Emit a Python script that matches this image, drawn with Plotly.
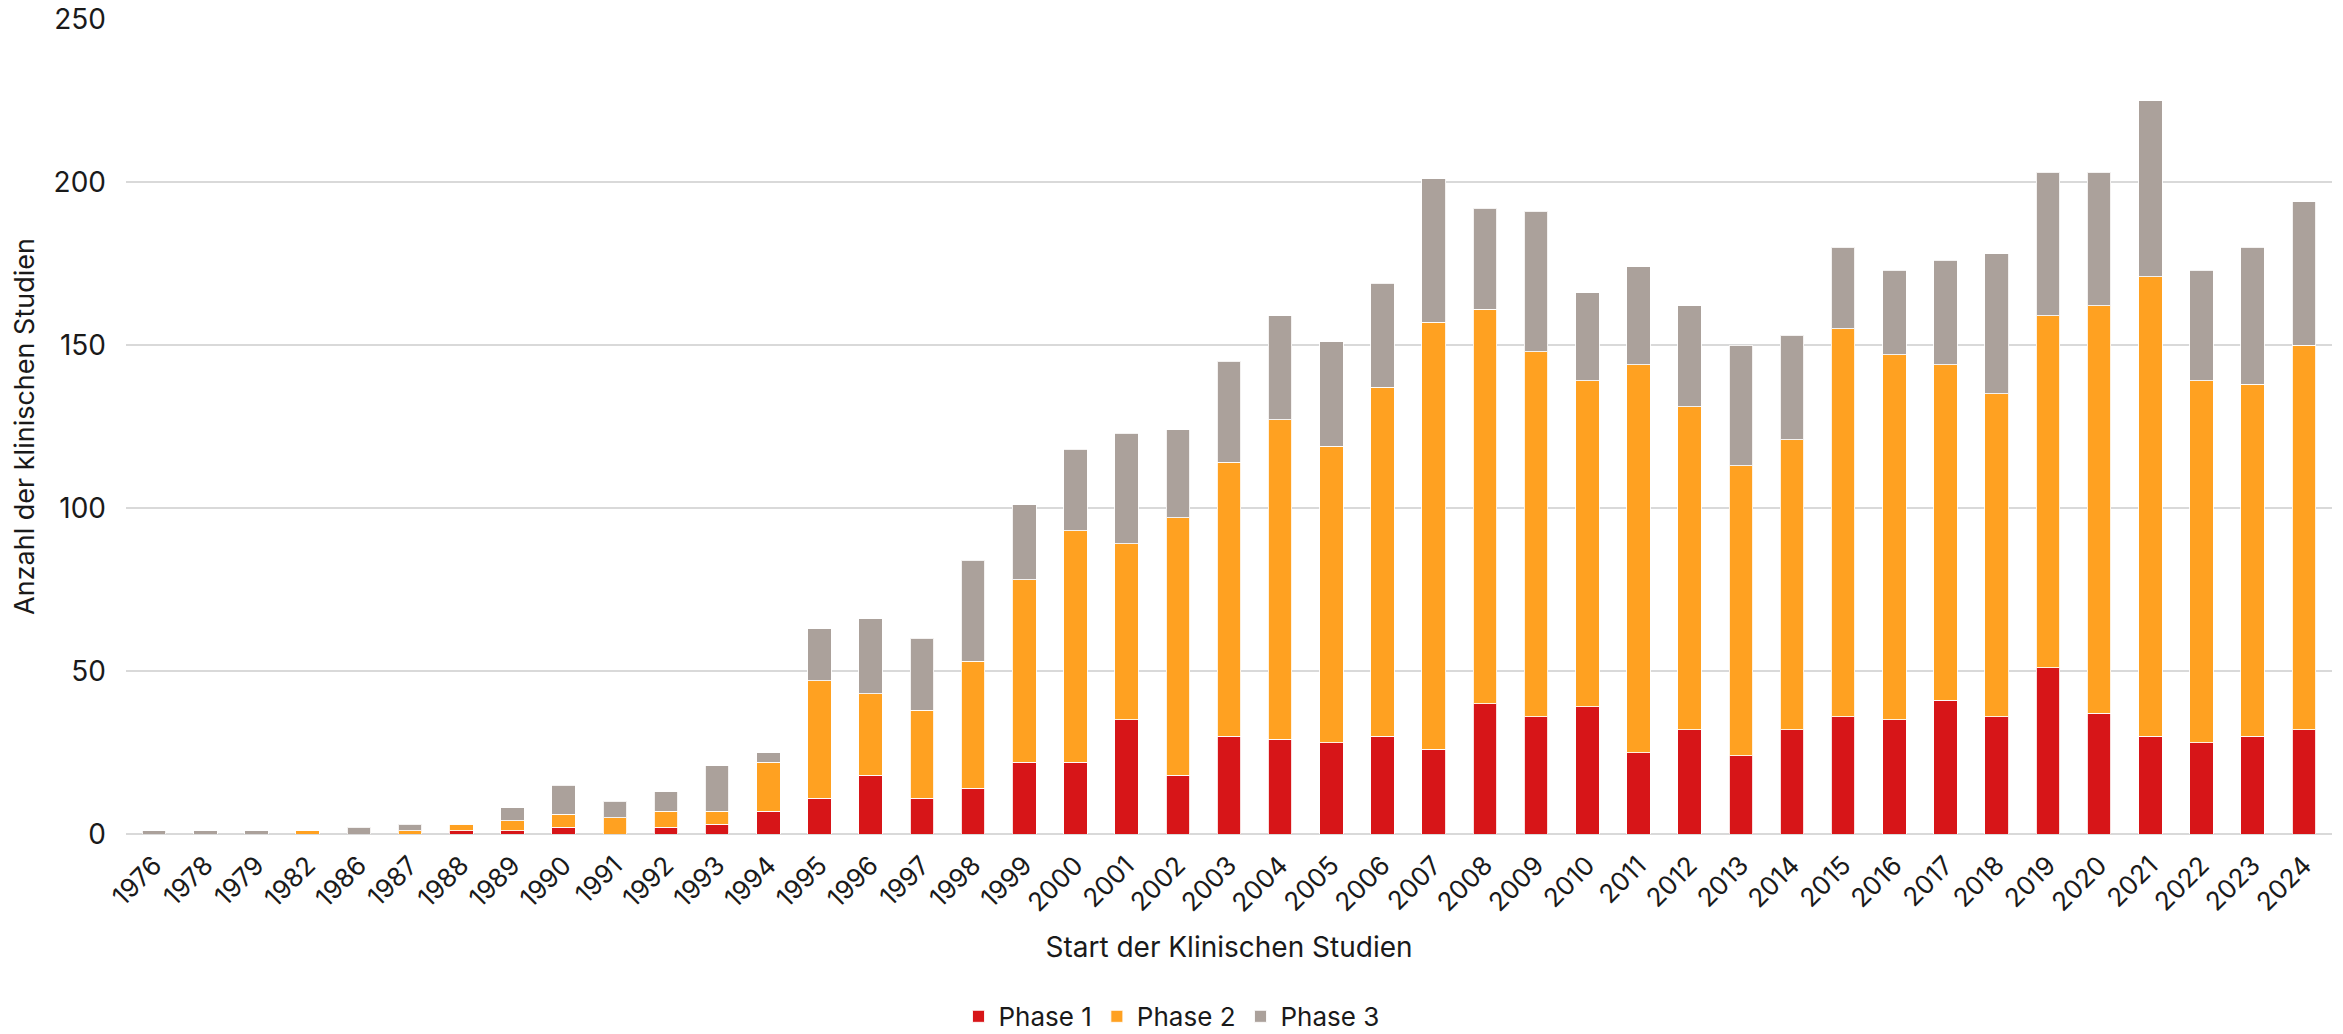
import plotly.graph_objects as go

# Start year of the clinical trials (categorical axis)
years = ["1976", "1978", "1979", "1982", "1986", "1987", "1988", "1989", "1990",
         "1991", "1992", "1993", "1994", "1995", "1996", "1997", "1998", "1999",
         "2000", "2001", "2002", "2003", "2004", "2005", "2006", "2007", "2008",
         "2009", "2010", "2011", "2012", "2013", "2014", "2015", "2016", "2017",
         "2018", "2019", "2020", "2021", "2022", "2023", "2024"]

# Number of trials per phase and start year
phase1 = [0, 0, 0, 0, 0, 0, 1, 1, 2,
          0, 2, 3, 7, 11, 18, 11, 14, 22,
          22, 35, 18, 30, 29, 28, 30, 26, 40,
          36, 39, 25, 32, 24, 32, 36, 35, 41,
          36, 51, 37, 30, 28, 30, 32]
phase2 = [0, 0, 0, 1, 0, 1, 2, 3, 4,
          5, 5, 4, 15, 36, 25, 27, 39, 56,
          71, 54, 79, 84, 98, 91, 107, 131, 121,
          112, 100, 119, 99, 89, 89, 119, 112, 103,
          99, 108, 125, 141, 111, 108, 118]
phase3 = [1, 1, 1, 0, 2, 2, 0, 4, 9,
          5, 6, 14, 3, 16, 23, 22, 31, 23,
          25, 34, 27, 31, 32, 32, 32, 44, 31,
          43, 27, 30, 31, 37, 32, 25, 26, 32,
          43, 44, 41, 54, 34, 42, 44]

series_names = ["Phase 1", "Phase 2", "Phase 3"]
series_colors = ["#D71518", "#FFA121", "#ABA19B"]

FONT = "Inter"
TEXT = "#1A1A1A"
GRID = "#D9D9D9"

fig = go.Figure()
for name, vals, col in zip(series_names, [phase1, phase2, phase3], series_colors):
    fig.add_trace(go.Bar(
        x=years,
        y=vals,
        name=name,
        marker=dict(color=col, line=dict(color="rgba(255,255,255,0.85)", width=1)),
    ))

fig.update_layout(
    width=2343,
    height=1034,
    barmode="stack",
    bargap=0.54,
    plot_bgcolor="white",
    paper_bgcolor="white",
    font=dict(family=FONT, size=26, color=TEXT),
    margin=dict(l=126, r=11, t=19, b=200, autoexpand=False),
    legend=dict(
        orientation="h",
        xref="container", yref="container",
        x=0.5, xanchor="center",
        y=0.017, yanchor="middle",
        font=dict(family=FONT, size=26, color=TEXT),
        itemclick=False,
        traceorder="normal",
    ),
    showlegend=True,
)

fig.update_xaxes(
    type="category",
    range=[-0.55, len(years) - 0.45],
    tickangle=-45,
    tickfont=dict(family=FONT, size=26, color=TEXT),
    ticklabelstandoff=10,
    showgrid=False,
    showline=False,
    ticks="",
    automargin=False,
    title=dict(text="Start der Klinischen Studien",
               font=dict(family=FONT, size=28, color=TEXT),
               standoff=20),
)

fig.update_yaxes(
    range=[0, 250],
    tickvals=[0, 50, 100, 150, 200, 250],
    tickfont=dict(family=FONT, size=28, color=TEXT),
    showgrid=True,
    gridcolor=GRID,
    gridwidth=2,
    zeroline=True,
    zerolinecolor=GRID,
    zerolinewidth=2,
    showline=False,
    ticks="",
    ticklabelstandoff=19,
    automargin=False,
    title=dict(text="Anzahl der klinischen Studien",
               font=dict(family=FONT, size=27, color=TEXT),
               standoff=11),
)

fig.write_html("out.html")
